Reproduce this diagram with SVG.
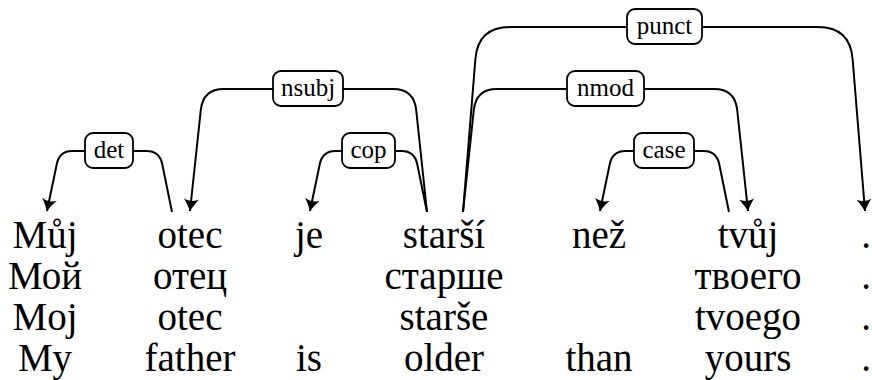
<svg xmlns="http://www.w3.org/2000/svg" width="872" height="380" viewBox="0 0 872 380">
<style>
.arc{fill:none;stroke:#000;stroke-width:2;marker-end:url(#ah)}
.box{fill:#fff;stroke:#000;stroke-width:1.8}
</style>
<defs>
<marker id="ah" viewBox="-13 -8 14 16" refX="0" refY="0" markerWidth="14" markerHeight="16" markerUnits="userSpaceOnUse" orient="auto">
<path d="M0,0 C-3,-1.5 -8,-4.5 -12,-7.5 C-9.5,-3 -9.5,3 -12,7.5 C-8,4.5 -3,1.5 0,0 Z" fill="#000"/>
</marker>
</defs>
<g id="connectors">
<path class="arc" d="M172,212 L162.2,164 Q159.5,151 146.5,151 L72,151 Q59.5,151 56.8,164 L47,211"/>
<path class="arc" d="M427,212 L417.2,164 Q414.5,151 401.5,151 L335.5,151 Q322.5,151 319.8,164 L310,211"/>
<path class="arc" d="M729,212 L719.2,164 Q716.5,151 703.5,151 L625.5,151 Q612.5,151 609.8,164 L600,211"/>
<path class="arc" d="M427,212 L416.2,110 Q414,89 393,89 L224,89 Q203,89 200.8,110 L190,211"/>
<path class="arc" d="M463,212 L473.8,110 Q476,89 497,89 L714,89 Q735,89 737.2,110 L748,211"/>
<path class="arc" d="M463,212 L475.4,59 Q478,27 510,27 L818,27 Q850,27 852.6,59 L865,211"/>
<rect class="box" x="85" y="133" width="48" height="35" rx="8"/>
<rect class="box" x="342" y="133" width="53" height="35" rx="8"/>
<rect class="box" x="634" y="133" width="60" height="35" rx="8"/>
<rect class="box" x="273" y="71" width="70" height="35" rx="8"/>
<rect class="box" x="567" y="71" width="77" height="35" rx="8"/>
<rect class="box" x="627" y="9" width="75" height="35" rx="8"/>
<text x="109" y="158" font-family="Liberation Serif" font-size="25" text-anchor="middle">det</text>
<text x="368.5" y="158" font-family="Liberation Serif" font-size="25" text-anchor="middle">cop</text>
<text x="664" y="158" font-family="Liberation Serif" font-size="25" text-anchor="middle">case</text>
<text x="308" y="96" font-family="Liberation Serif" font-size="25" text-anchor="middle">nsubj</text>
<text x="605.5" y="96" font-family="Liberation Serif" font-size="25" text-anchor="middle">nmod</text>
<text x="664.5" y="34" font-family="Liberation Serif" font-size="25" text-anchor="middle">punct</text>
</g>
<g id="n1">
<text x="45" y="248" font-family="Liberation Serif" font-size="39" text-anchor="middle">Můj</text>
<text x="45" y="289" font-family="Liberation Serif" font-size="39" text-anchor="middle">Мой</text>
<text x="45" y="330" font-family="Liberation Serif" font-size="39" text-anchor="middle">Moj</text>
<text x="45" y="371" font-family="Liberation Serif" font-size="39" text-anchor="middle">My</text>
</g>
<g id="n2">
<text x="190" y="248" font-family="Liberation Serif" font-size="39" text-anchor="middle">otec</text>
<text x="190" y="289" font-family="Liberation Serif" font-size="39" text-anchor="middle">отец</text>
<text x="190" y="330" font-family="Liberation Serif" font-size="39" text-anchor="middle">otec</text>
<text x="190" y="371" font-family="Liberation Serif" font-size="39" text-anchor="middle">father</text>
</g>
<g id="n3">
<text x="309" y="248" font-family="Liberation Serif" font-size="39" text-anchor="middle">je</text>
<text x="309" y="371" font-family="Liberation Serif" font-size="39" text-anchor="middle">is</text>
</g>
<g id="n4">
<text x="444" y="248" font-family="Liberation Serif" font-size="39" text-anchor="middle">starší</text>
<text x="444" y="289" font-family="Liberation Serif" font-size="39" text-anchor="middle">старше</text>
<text x="444" y="330" font-family="Liberation Serif" font-size="39" text-anchor="middle">starše</text>
<text x="444" y="371" font-family="Liberation Serif" font-size="39" text-anchor="middle">older</text>
</g>
<g id="n5">
<text x="599" y="248" font-family="Liberation Serif" font-size="39" text-anchor="middle">než</text>
<text x="599" y="371" font-family="Liberation Serif" font-size="39" text-anchor="middle">than</text>
</g>
<g id="n6">
<text x="748" y="248" font-family="Liberation Serif" font-size="39" text-anchor="middle">tvůj</text>
<text x="748" y="289" font-family="Liberation Serif" font-size="39" text-anchor="middle">твоего</text>
<text x="748" y="330" font-family="Liberation Serif" font-size="39" text-anchor="middle">tvoego</text>
<text x="748" y="371" font-family="Liberation Serif" font-size="39" text-anchor="middle">yours</text>
</g>
<g id="n7">
<text x="866" y="248" font-family="Liberation Serif" font-size="39" text-anchor="middle">.</text>
<text x="866" y="289" font-family="Liberation Serif" font-size="39" text-anchor="middle">.</text>
<text x="866" y="330" font-family="Liberation Serif" font-size="39" text-anchor="middle">.</text>
<text x="866" y="371" font-family="Liberation Serif" font-size="39" text-anchor="middle">.</text>
</g>
</svg>
